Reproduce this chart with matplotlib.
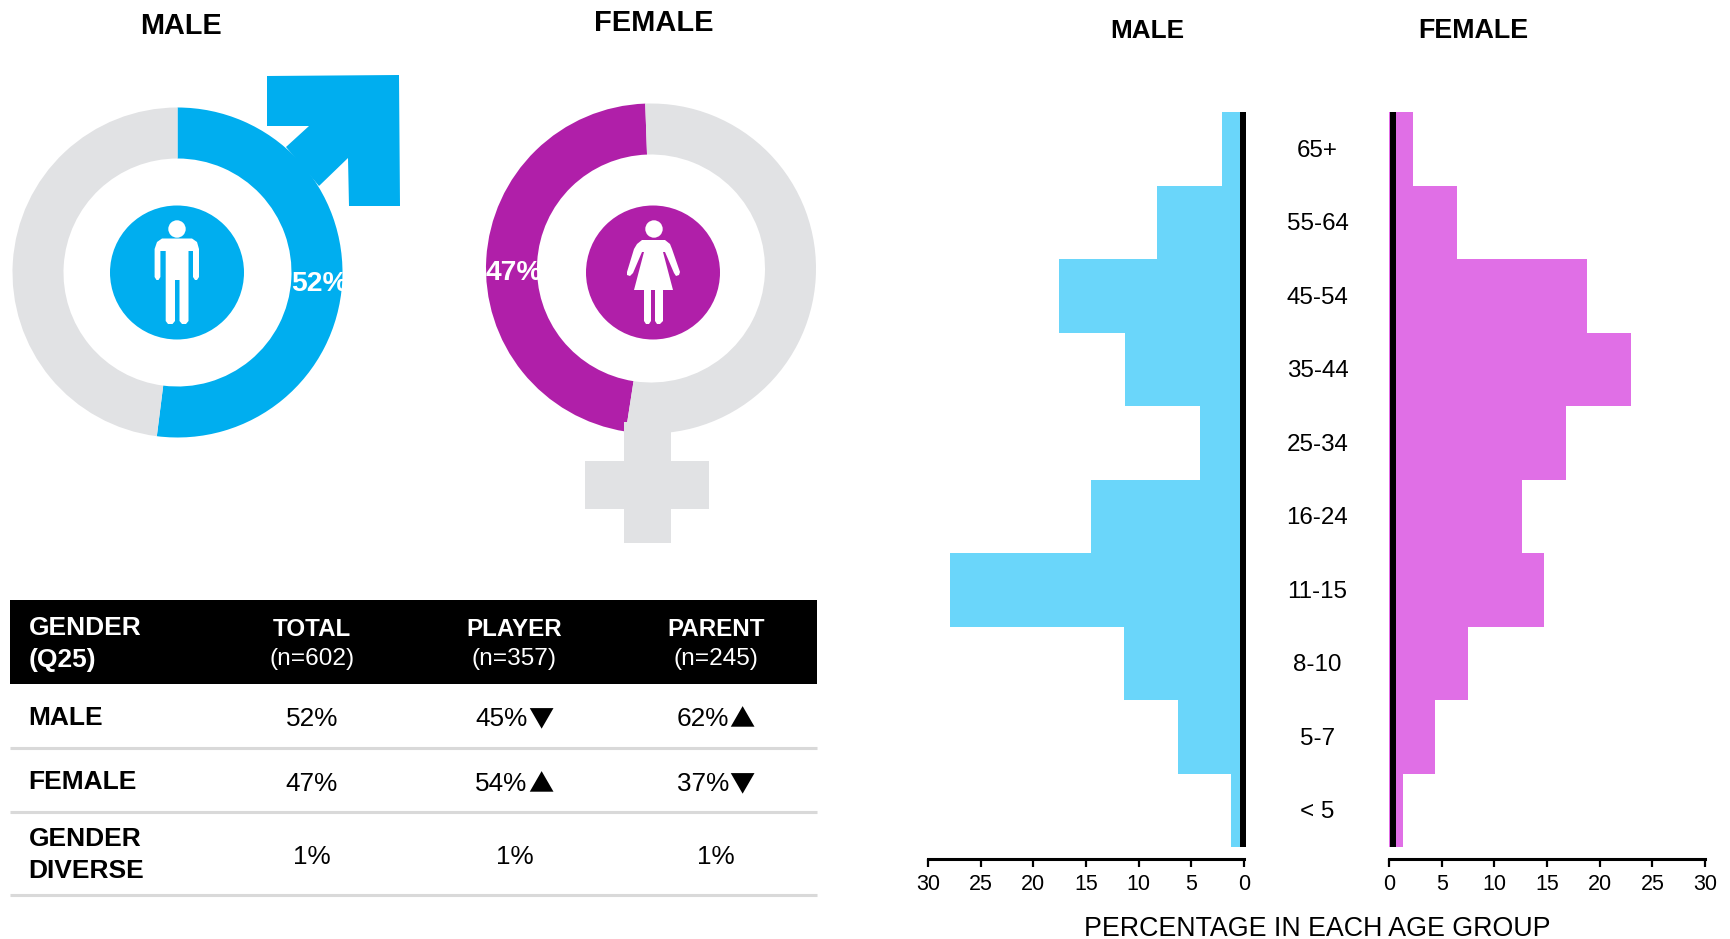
import matplotlib
matplotlib.use("Agg")
import matplotlib.pyplot as plt
from matplotlib.patches import Circle, Polygon, Rectangle
from matplotlib.transforms import ScaledTranslation, blended_transform_factory

plt.rcParams['font.family'] = ['Liberation Sans', 'DejaVu Sans']

W, H = 1731, 939

BLUE = "#00AEEF"
PURPLE = "#B01FA9"
GREY = "#E1E2E4"
LIGHT_BLUE = "#6AD6FA"
PINK = "#E06FE6"

# donuts
male_share = [52, 48]
female_share = [47, 53]

# table
col_heads = ["TOTAL", "PLAYER", "PARENT"]
col_ns = ["(n=602)", "(n=357)", "(n=245)"]
male_row = ["52%", "45%", "62%"]
male_marks = ["", "▼", "▲"]
female_row = ["47%", "54%", "37%"]
female_marks = ["", "▲", "▼"]
diverse_row = ["1%", "1%", "1%"]

# pyramid, top row first
age_groups = ["65+", "55-64", "45-54", "35-44", "25-34", "16-24", "11-15", "8-10", "5-7", "< 5"]
male_pct = [2.1, 8.3, 17.6, 11.3, 4.2, 14.5, 27.9, 11.4, 6.3, 1.2]
female_pct = [2.3, 6.5, 18.8, 23.0, 16.8, 12.6, 14.7, 7.5, 4.4, 1.3]
pct_ticks = [0, 5, 10, 15, 20, 25, 30]


fig = plt.figure(figsize=(W / 100, H / 100), dpi=100, facecolor="white")


#axes placed by pixel box, y counted from the top like in the picture
def px_axes(x0, y0, x1, y1):
    return fig.add_axes([x0 / W, 1 - y1 / H, (x1 - x0) / W, (y1 - y0) / H])


def donut(cx, cy, values, colors, start, clockwise):
    R = 165
    ax = px_axes(cx - R, cy - R, cx + R, cy + R)
    ax.pie(values, colors=colors, startangle=start, counterclock=not clockwise,
           radius=1, wedgeprops={"width": 51 / 165})
    ax.set_xlim(-1, 1)
    ax.set_ylim(-1, 1)
    ax.set_zorder(1)


donut(177.5, 272.5, male_share, [BLUE, GREY], 90, True)
donut(651, 268.5, female_share, [PURPLE, GREY], 92, False)

# pyramid axes
ax_l = px_axes(928, 112, 1244, 847)
ax_r = px_axes(1389, 112, 1705, 847)
rows = list(range(len(age_groups)))[::-1]
ax_l.barh(rows, male_pct, height=1.0, color=LIGHT_BLUE)
ax_r.barh(rows, female_pct, height=1.0, color=PINK)
ax_l.set_xlim(30, 0)
ax_r.set_xlim(0, 30)
for ax in (ax_l, ax_r):
    ax.set_ylim(-0.5, len(age_groups) - 0.5)
    ax.set_yticks([])
    ax.set_xticks(pct_ticks)
    ax.tick_params(axis="x", length=5.8, width=1.6, pad=5, labelsize=15.5, color="black")
    for s in ("top", "left", "right"):
        ax.spines[s].set_visible(False)
    ax.spines["bottom"].set_position(("outward", 8.6))
    ax.spines["bottom"].set_linewidth(2.2)
    ax.patch.set_alpha(0)

# everything else goes on a full size overlay in pixels
ov = fig.add_axes([0, 0, 1, 1], zorder=5)
ov.set_xlim(0, W)
ov.set_ylim(H, 0)
ov.axis("off")
ov.patch.set_alpha(0)

# age labels follow the rows of the pyramid
trans = blended_transform_factory(ov.transData, ax_l.transData) + ScaledTranslation(0, -0.02, fig.dpi_scale_trans)
for r, lab in zip(rows, age_groups):
    ov.text(1317.5, r, lab, transform=trans, ha="center", va="center", fontsize=17.4)

ov.add_patch(Rectangle((1240, 112), 6, 735, color="black", lw=0))
ov.add_patch(Rectangle((1390, 112), 6, 735, color="black", lw=0))

# male symbol arrow
ov.add_patch(Polygon([(267, 76), (399, 75), (400, 206), (349, 206), (348, 158), (319, 186),
                      (286, 147), (309, 126), (267, 126)], color=BLUE, lw=0))
# female symbol cross
ov.add_patch(Rectangle((624, 422), 47, 121, color=GREY, lw=0))
ov.add_patch(Rectangle((585, 461), 124, 48, color=GREY, lw=0))

# icons
ov.add_patch(Circle((177, 272.5), 67, color=BLUE, lw=0))
ov.add_patch(Circle((653, 272.5), 67, color=PURPLE, lw=0))
ov.add_patch(Circle((177, 229), 8.7, color="white", lw=0))
ov.add_patch(Circle((654, 229), 8.7, color="white", lw=0))
man = [(162, 238.5), (192, 238.5), (197, 242), (199, 249), (199, 277), (197, 280), (195, 280),
       (193, 277), (193, 251), (188.5, 251), (188.5, 321), (186, 324), (182, 324), (179.5, 321),
       (179.5, 280), (175, 280), (175, 321), (172.5, 324), (168, 324), (165.7, 321), (165.7, 251),
       (160.4, 251), (160.4, 277), (158.5, 280), (156.5, 280), (154.6, 277), (154.6, 249), (157, 242)]
ov.add_patch(Polygon(man, color="white", lw=0))
woman = [(642, 240), (665, 240), (670, 244), (672, 249), (680, 272), (679, 275), (676, 276),
         (674, 273), (665, 252), (663, 252), (673, 290), (663, 290), (663, 321), (660, 324),
         (657, 324), (655, 321), (655, 290), (651, 290), (651, 321), (649, 324), (646, 324),
         (644, 321), (644, 290), (634, 290), (644, 252), (642, 252), (633, 273), (630, 276),
         (627, 275), (627, 272), (634, 249), (637, 244)]
ov.add_patch(Polygon(woman, color="white", lw=0))

ov.text(319, 284, "52%", color="white", fontsize=20.3, fontweight="bold", ha="center", va="center")
ov.text(513.5, 273, "47%", color="white", fontsize=20.3, fontweight="bold", ha="center", va="center")

# titles
ov.text(181, 26.5, "MALE", fontsize=20.8, fontweight="bold", ha="center", va="center")
ov.text(654, 23, "FEMALE", fontsize=20.9, fontweight="bold", ha="center", va="center")
ov.text(1147.5, 31, "MALE", fontsize=18.8, fontweight="bold", ha="center", va="center")
ov.text(1473.5, 31, "FEMALE", fontsize=19.4, fontweight="bold", ha="center", va="center")
ov.text(1317, 935.5, "PERCENTAGE IN EACH AGE GROUP", fontsize=19.3, ha="center", va="baseline")

# table
col_x = [312, 514.5, 716]
ov.add_patch(Rectangle((10, 600), 807, 84, color="black", lw=0))
for y in (748, 812, 895):
    ov.plot([10, 817], [y, y], color="#D9D9D9", lw=2.2, solid_capstyle="butt")
ov.text(28.5, 628, "GENDER", color="white", fontsize=19, fontweight="bold", va="center")
ov.text(28.5, 660, "(Q25)", color="white", fontsize=19, fontweight="bold", va="center")
ov.text(28.5, 718, "MALE", fontsize=19, fontweight="bold", va="center")
ov.text(28.5, 782, "FEMALE", fontsize=19, fontweight="bold", va="center")
ov.text(28.5, 839, "GENDER", fontsize=19, fontweight="bold", va="center")
ov.text(28.5, 871, "DIVERSE", fontsize=19, fontweight="bold", va="center")


#number and its up/down mark, the CJK font has the wider triangle
def value_cell(x, y, value, mark):
    if mark == "":
        ov.text(x, y, value, fontsize=18.8, ha="center", va="center")
    else:
        ov.text(x + 13, y, value, fontsize=18.8, ha="right", va="center")
        ov.text(x + 13.5, y + 1, mark, fontsize=18.2, ha="left", va="center", family="Noto Sans CJK SC")


for i, x in enumerate(col_x):
    ov.text(x, 630, col_heads[i], color="white", fontsize=17.4, fontweight="bold", ha="center", va="center")
    ov.text(x, 659, col_ns[i], color="white", fontsize=17.6, ha="center", va="center")
    value_cell(x, 719, male_row[i], male_marks[i])
    value_cell(x, 784, female_row[i], female_marks[i])
    value_cell(x, 857, diverse_row[i], "")

fig.savefig("out.png", dpi=100, facecolor="white")
